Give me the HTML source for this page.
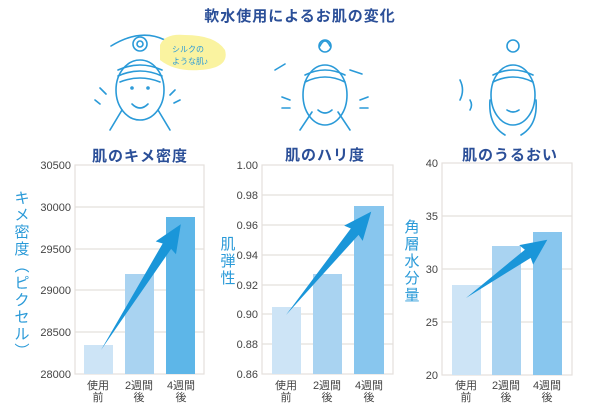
<!DOCTYPE html>
<html><head><meta charset="utf-8"><style>
body{margin:0;background:#fff;width:600px;height:407px;overflow:hidden}
svg text{font-family:"Liberation Sans","Noto Sans CJK JP",sans-serif}
</style></head><body>
<svg width="600" height="407" viewBox="0 0 600 407" xmlns="http://www.w3.org/2000/svg">
<text x="300" y="21" text-anchor="middle" font-size="15" font-weight="bold" fill="#2b4f98" letter-spacing="1">軟水使用によるお肌の変化</text>
<g fill="none" stroke="#2a9ad8" stroke-width="1.6" stroke-linecap="round">
 <path d="M111 46 Q140 28 165 40"/>
 <circle cx="140" cy="44" r="7"/><circle cx="140" cy="44" r="3"/>
 <ellipse cx="140" cy="90" rx="24" ry="30"/>
 <path d="M118 70 Q140 60 162 70 M118 76 Q140 66 162 76 M120 82 Q140 74 160 82"/>
 <path d="M132 104 Q140 112 148 104"/><circle cx="132" cy="88" r="1"/><circle cx="148" cy="88" r="1"/>
 <path d="M110 130 L122 110 M170 130 L158 110 M100 88 l6 6 M95 100 l5 4 M175 90 l-5 5 M180 100 l-6 3"/>
 <path d="M320 46 Q325 36 330 46"/><circle cx="325" cy="46" r="6"/>
 <ellipse cx="325" cy="95" rx="22" ry="30"/>
 <path d="M305 75 Q325 65 345 75 M305 82 Q325 72 345 82"/>
 <path d="M318 110 Q325 116 332 110"/>
 <path d="M300 130 L312 112 M350 130 L338 112 M290 100 l-8 -3 M290 108 l-8 0 M360 100 l8 -3 M360 108 l8 0"/>
 <path d="M275 70 l10 -6 M350 70 l12 4"/>
 <circle cx="513" cy="46" r="6"/>
 <ellipse cx="513" cy="95" rx="22" ry="30"/>
 <path d="M493 75 Q513 65 533 75 M493 82 Q513 72 533 82"/>
 <path d="M507 110 Q513 114 519 110"/>
 <path d="M490 100 Q488 125 505 135 M536 100 Q538 125 521 135"/>
 <path d="M460 80 q5 10 0 20 M470 100 q3 5 0 10"/>
</g>
<path d="M160 45 Q165 33 185 35 Q215 35 225 50 Q230 68 200 70 Q175 72 160 60Z" fill="#faf3a0"/>
<text x="172" y="52" font-size="8" fill="#2a9ad8">シルクの</text>
<text x="172" y="64" font-size="8" fill="#2a9ad8">ような肌♪</text>

<g font-size="11" fill="#444" text-anchor="end">
<rect x="75" y="165" width="129" height="209" fill="none" stroke="#e4e0dc" stroke-width="1.2"/>
<g stroke="#e4e0dc" stroke-width="1.2"><line x1="75" x2="204" y1="207" y2="207"/><line x1="75" x2="204" y1="249" y2="249"/><line x1="75" x2="204" y1="290" y2="290"/><line x1="75" x2="204" y1="332" y2="332"/></g>
<text x="71" y="169">30500</text><text x="71" y="211">30000</text><text x="71" y="253">29500</text><text x="71" y="294">29000</text><text x="71" y="336">28500</text><text x="71" y="378">28000</text>
<rect x="84" y="345" width="29" height="29" fill="#cde4f6"/>
<rect x="125" y="274" width="29" height="100" fill="#a9d3f1"/>
<rect x="166" y="217" width="29" height="157" fill="#5db6e8"/>
<g transform="translate(101,350) rotate(-57.6)"><polygon points="0,0 123,-5 121,-12 149,0 121,12 123,5" fill="#1a96d9"/></g>
<rect x="262" y="165" width="131" height="209" fill="none" stroke="#e4e0dc" stroke-width="1.2"/>
<g stroke="#e4e0dc" stroke-width="1.2"><line x1="262" x2="393" y1="195" y2="195"/><line x1="262" x2="393" y1="225" y2="225"/><line x1="262" x2="393" y1="255" y2="255"/><line x1="262" x2="393" y1="285" y2="285"/><line x1="262" x2="393" y1="314" y2="314"/><line x1="262" x2="393" y1="344" y2="344"/></g>
<text x="258" y="169">1.00</text><text x="258" y="199">0.98</text><text x="258" y="229">0.96</text><text x="258" y="259">0.94</text><text x="258" y="289">0.92</text><text x="258" y="318">0.90</text><text x="258" y="348">0.88</text><text x="258" y="378">0.86</text>
<rect x="272" y="307" width="29" height="67" fill="#cde4f6"/>
<rect x="313" y="274" width="29" height="100" fill="#a9d3f1"/>
<rect x="354" y="206" width="30" height="168" fill="#88c6ee"/>
<g transform="translate(286,315) rotate(-50.5)"><polygon points="0,0 108,-5 106,-12 134,0 106,12 108,5" fill="#1a96d9"/></g>
<rect x="442" y="163" width="130" height="212" fill="none" stroke="#e4e0dc" stroke-width="1.2"/>
<g stroke="#e4e0dc" stroke-width="1.2"><line x1="442" x2="572" y1="216" y2="216"/><line x1="442" x2="572" y1="269" y2="269"/><line x1="442" x2="572" y1="322" y2="322"/></g>
<text x="438" y="167">40</text><text x="438" y="220">35</text><text x="438" y="273">30</text><text x="438" y="326">25</text><text x="438" y="379">20</text>
<rect x="452" y="285" width="29" height="90" fill="#cde4f6"/>
<rect x="492" y="246" width="29" height="129" fill="#a9d3f1"/>
<rect x="533" y="232" width="29" height="143" fill="#88c6ee"/>
<g transform="translate(466,298) rotate(-35.6)"><polygon points="0,0 76,-5 74,-12 100,0 74,12 76,5" fill="#1a96d9"/></g>
</g>
<g font-size="11" fill="#444" text-anchor="middle">
<text x="98" y="389">使用</text><text x="98" y="401">前</text>
<text x="139" y="389">2週間</text><text x="139" y="401">後</text>
<text x="181" y="389">4週間</text><text x="181" y="401">後</text>
<text x="286" y="389">使用</text><text x="286" y="401">前</text>
<text x="327" y="389">2週間</text><text x="327" y="401">後</text>
<text x="369" y="389">4週間</text><text x="369" y="401">後</text>
<text x="466" y="389">使用</text><text x="466" y="401">前</text>
<text x="506" y="389">2週間</text><text x="506" y="401">後</text>
<text x="547" y="389">4週間</text><text x="547" y="401">後</text>
</g>
<g font-size="15" font-weight="bold" fill="#2b4f98" text-anchor="middle">
<text x="140" y="161" letter-spacing="1">肌のキメ密度</text>
<text x="325" y="160" letter-spacing="1">肌のハリ度</text>
<text x="510" y="160" letter-spacing="1">肌のうるおい</text>
</g>
<g font-size="15" fill="#2a9ad8" text-anchor="middle">
<text x="22" y="203">キ</text><text x="22" y="220">メ</text><text x="22" y="237">密</text><text x="22" y="254">度</text><text x="22" y="271">︵</text><text x="22" y="288">ピ</text><text x="22" y="305">ク</text><text x="22" y="322">セ</text><text x="22" y="339">ル</text><text x="22" y="356">︶</text>
<text x="228" y="249">肌</text><text x="228" y="266">弾</text><text x="228" y="283">性</text>
<text x="412" y="232">角</text><text x="412" y="249">層</text><text x="412" y="266">水</text><text x="412" y="283">分</text><text x="412" y="300">量</text>
</g>
</svg>
</body></html>
